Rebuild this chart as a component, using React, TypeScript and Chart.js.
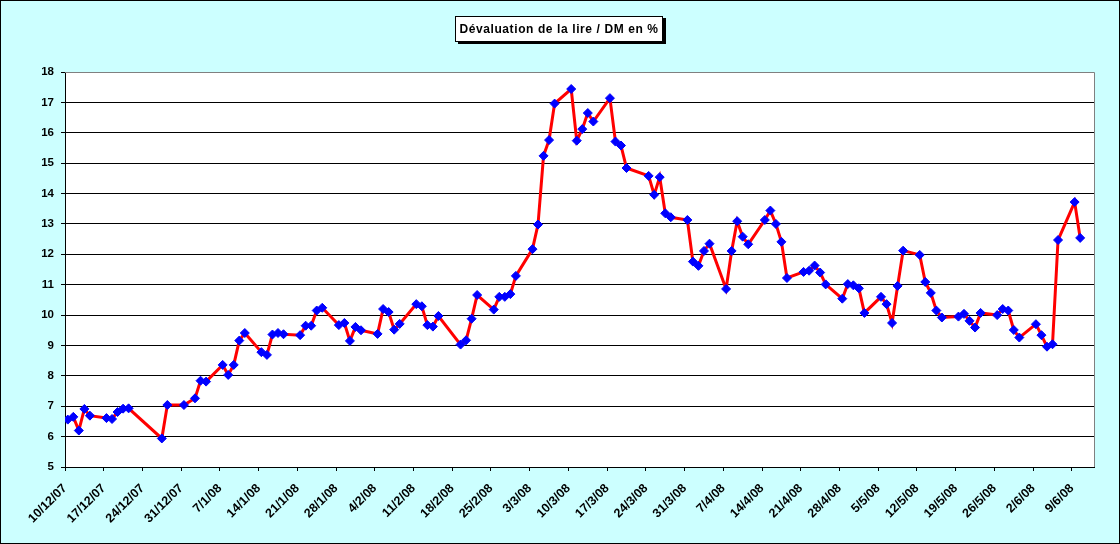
import { useEffect, useRef } from "react";
import { Chart, registerables } from "chart.js";

Chart.register(...registerables);

// quotation dates (d/m/yy) and devaluation in %
const dates = [
  "10/12/07", "11/12/07", "12/12/07", "13/12/07", "14/12/07",
  "17/12/07", "18/12/07", "19/12/07", "20/12/07", "21/12/07",
  "27/12/07", "28/12/07", "31/12/07", "2/1/08", "3/1/08", "4/1/08",
  "7/1/08", "8/1/08", "9/1/08", "10/1/08", "11/1/08",
  "14/1/08", "15/1/08", "16/1/08", "17/1/08", "18/1/08",
  "21/1/08", "22/1/08", "23/1/08", "24/1/08", "25/1/08",
  "28/1/08", "29/1/08", "30/1/08", "31/1/08", "1/2/08",
  "4/2/08", "5/2/08", "6/2/08", "7/2/08", "8/2/08",
  "11/2/08", "12/2/08", "13/2/08", "14/2/08", "15/2/08",
  "19/2/08", "20/2/08", "21/2/08", "22/2/08",
  "25/2/08", "26/2/08", "27/2/08", "28/2/08", "29/2/08",
  "3/3/08", "4/3/08", "5/3/08", "6/3/08", "7/3/08",
  "10/3/08", "11/3/08", "12/3/08", "13/3/08", "14/3/08",
  "17/3/08", "18/3/08", "19/3/08", "20/3/08",
  "24/3/08", "25/3/08", "26/3/08", "27/3/08", "28/3/08",
  "31/3/08", "1/4/08", "2/4/08", "3/4/08", "4/4/08",
  "7/4/08", "8/4/08", "9/4/08", "10/4/08", "11/4/08",
  "14/4/08", "15/4/08", "16/4/08", "17/4/08", "18/4/08",
  "21/4/08", "22/4/08", "23/4/08", "24/4/08", "25/4/08",
  "28/4/08", "29/4/08", "30/4/08", "1/5/08", "2/5/08",
  "5/5/08", "6/5/08", "7/5/08", "8/5/08", "9/5/08",
  "12/5/08", "13/5/08", "14/5/08", "15/5/08", "16/5/08",
  "19/5/08", "20/5/08", "21/5/08", "22/5/08", "23/5/08",
  "26/5/08", "27/5/08", "28/5/08", "29/5/08", "30/5/08",
  "2/6/08", "3/6/08", "4/6/08", "5/6/08", "6/6/08",
  "9/6/08", "10/6/08",
];

const devaluation = [
  6.56, 6.65, 6.2, 6.91, 6.69,
  6.61, 6.58, 6.81, 6.92, 6.93,
  5.94, 7.04, 7.04, 7.26, 7.84, 7.81,
  8.36, 8.03, 8.36, 9.16, 9.41,
  8.78, 8.69, 9.36, 9.41, 9.37,
  9.34, 9.65, 9.65, 10.15, 10.24,
  9.67, 9.74, 9.15, 9.61, 9.5,
  9.38, 10.2, 10.1, 9.52, 9.71,
  10.36, 10.29, 9.67, 9.62, 9.97,
  9.03, 9.17, 9.88, 10.66,
  10.18, 10.6, 10.6, 10.69, 11.29,
  12.17, 12.98, 15.24, 15.76, 16.96,
  17.44, 15.74, 16.12, 16.65, 16.37,
  17.14, 15.71, 15.58, 14.84,
  14.58, 13.96, 14.54, 13.35, 13.22,
  13.13, 11.76, 11.62, 12.11, 12.35,
  10.86, 12.11, 13.09, 12.58, 12.33,
  13.13, 13.44, 13.0, 12.41, 11.22,
  11.42, 11.46, 11.63, 11.4, 11.01,
  10.54, 11.02, 10.98, 10.88, 10.07,
  10.6, 10.36, 9.74, 10.96, 12.12,
  11.98, 11.09, 10.73, 10.15, 9.92,
  9.95, 10.04, 9.81, 9.59, 10.07,
  10.0, 10.2, 10.15, 9.51, 9.26,
  9.7, 9.34, 8.96, 9.04, 12.47,
  13.72, 12.54,
];

// weekly axis labels (Mondays)
const xTickLabels = [
  "10/12/07", "17/12/07", "24/12/07", "31/12/07", "7/1/08", "14/1/08",
  "21/1/08", "28/1/08", "4/2/08", "11/2/08", "18/2/08", "25/2/08",
  "3/3/08", "10/3/08", "17/3/08", "24/3/08", "31/3/08", "7/4/08",
  "14/4/08", "21/4/08", "28/4/08", "5/5/08", "12/5/08", "19/5/08",
  "26/5/08", "2/6/08", "9/6/08",
];

const axisStart = "10/12/07";
const axisEnd = "13/6/08";

const TITLE = "Dévaluation de la lire / DM en %";
const FONT = "Arial, 'Liberation Sans', sans-serif";

function toUtc(d: string) {
  const [dd, mm, yy] = d.split("/").map(Number);
  return Date.UTC(2000 + yy, mm - 1, dd);
}
const DAY = 86400000;
const dayOf = (d: string) => (toUtc(d) - toUtc(axisStart)) / DAY;

const plotFrame = {
  id: "plotFrame",
  beforeDraw(chart: Chart) {
    const { ctx, chartArea: a } = chart;
    ctx.save();
    ctx.fillStyle = "#FFFFFF";
    ctx.fillRect(a.left, a.top, a.right - a.left, a.bottom - a.top);
    ctx.restore();
  },
  afterDatasetsDraw(chart: Chart) {
    const { ctx, chartArea: a } = chart;
    ctx.save();
    ctx.strokeStyle = "#808080";
    ctx.lineWidth = 1;
    ctx.beginPath();
    ctx.moveTo(a.left, a.top + 0.5);
    ctx.lineTo(a.right + 0.5, a.top + 0.5);
    ctx.lineTo(a.right + 0.5, a.bottom);
    ctx.stroke();
    ctx.restore();
  },
};

export default function App() {
  const ref = useRef<HTMLCanvasElement>(null);

  useEffect(() => {
    document.body.style.margin = "0";
    if (!ref.current) return;
    // Excel date axis: each point sits in the middle of its day slot
    const points = dates.map((d, i) => ({ x: dayOf(d) + 0.5, y: devaluation[i] }));
    const tickDays = xTickLabels.map(dayOf);

    const chart = new Chart(ref.current, {
      type: "line",
      data: {
        datasets: [{
          data: points,
          borderColor: "#FF0000",
          borderWidth: 3,
          tension: 0,
          pointStyle: "rectRot",
          pointRadius: 4.5,
          pointBackgroundColor: "#0000FF",
          pointBorderColor: "#0000FF",
          pointBorderWidth: 1,
        }],
      },
      options: {
        responsive: false,
        animation: false,
        events: [],
        layout: { padding: { top: 72, right: 26, left: 0, bottom: 0 } },
        plugins: { legend: { display: false }, tooltip: { enabled: false }, title: { display: false } },
        scales: {
          x: {
            type: "linear",
            min: 0,
            max: dayOf(axisEnd),
            afterBuildTicks: (scale: any) => {
              scale.ticks = tickDays.map((v) => ({ value: v }));
            },
            afterFit: (scale: any) => { scale.height = 77; },
            grid: { drawOnChartArea: false, drawTicks: true, tickLength: 4, color: "#000", tickColor: "#000" },
            border: { display: true, color: "#000", width: 1 },
            ticks: {
              autoSkip: false,
              maxRotation: 45,
              minRotation: 45,
              padding: 10,
              color: "#000",
              font: { family: FONT, size: 12.5, weight: "bold" },
              callback: (_v: any, i: number) => xTickLabels[i],
            },
          },
          y: {
            min: 5,
            max: 18,
            afterFit: (scale: any) => { scale.width = 65; },
            grid: {
              color: (c: any) => (c.tick && c.tick.value === 18 ? "#808080" : "#000"),
              tickColor: "#000",
              lineWidth: 1,
              drawTicks: true,
              tickLength: 4,
            },
            border: { display: true, color: "#000", width: 1 },
            ticks: {
              stepSize: 1,
              padding: 7,
              color: "#000",
              font: { family: FONT, size: 11.5, weight: "bold" },
            },
          },
        },
      },
      plugins: [plotFrame],
    });
    return () => chart.destroy();
  }, []);

  return (
    <div style={{ position: "relative", width: 1120, height: 544, background: "#CCFFFF" }}>
      <canvas ref={ref} width={1120} height={544} style={{ position: "absolute", left: 0, top: 0 }} />
      <div
        style={{
          position: "absolute",
          left: 455,
          top: 16,
          width: 208,
          height: 26,
          boxSizing: "border-box",
          border: "1px solid #000",
          background: "#FFF",
          boxShadow: "3px 2px 0 #000",
          fontFamily: FONT,
          fontWeight: "bold",
          fontSize: 12,
          letterSpacing: "0.6px",
          lineHeight: "24px",
          textAlign: "center",
          whiteSpace: "nowrap",
        }}
      >
        {TITLE}
      </div>
      <div
        style={{
          position: "absolute",
          inset: 0,
          boxSizing: "border-box",
          border: "1px solid #000",
          pointerEvents: "none",
        }}
      />
    </div>
  );
}
